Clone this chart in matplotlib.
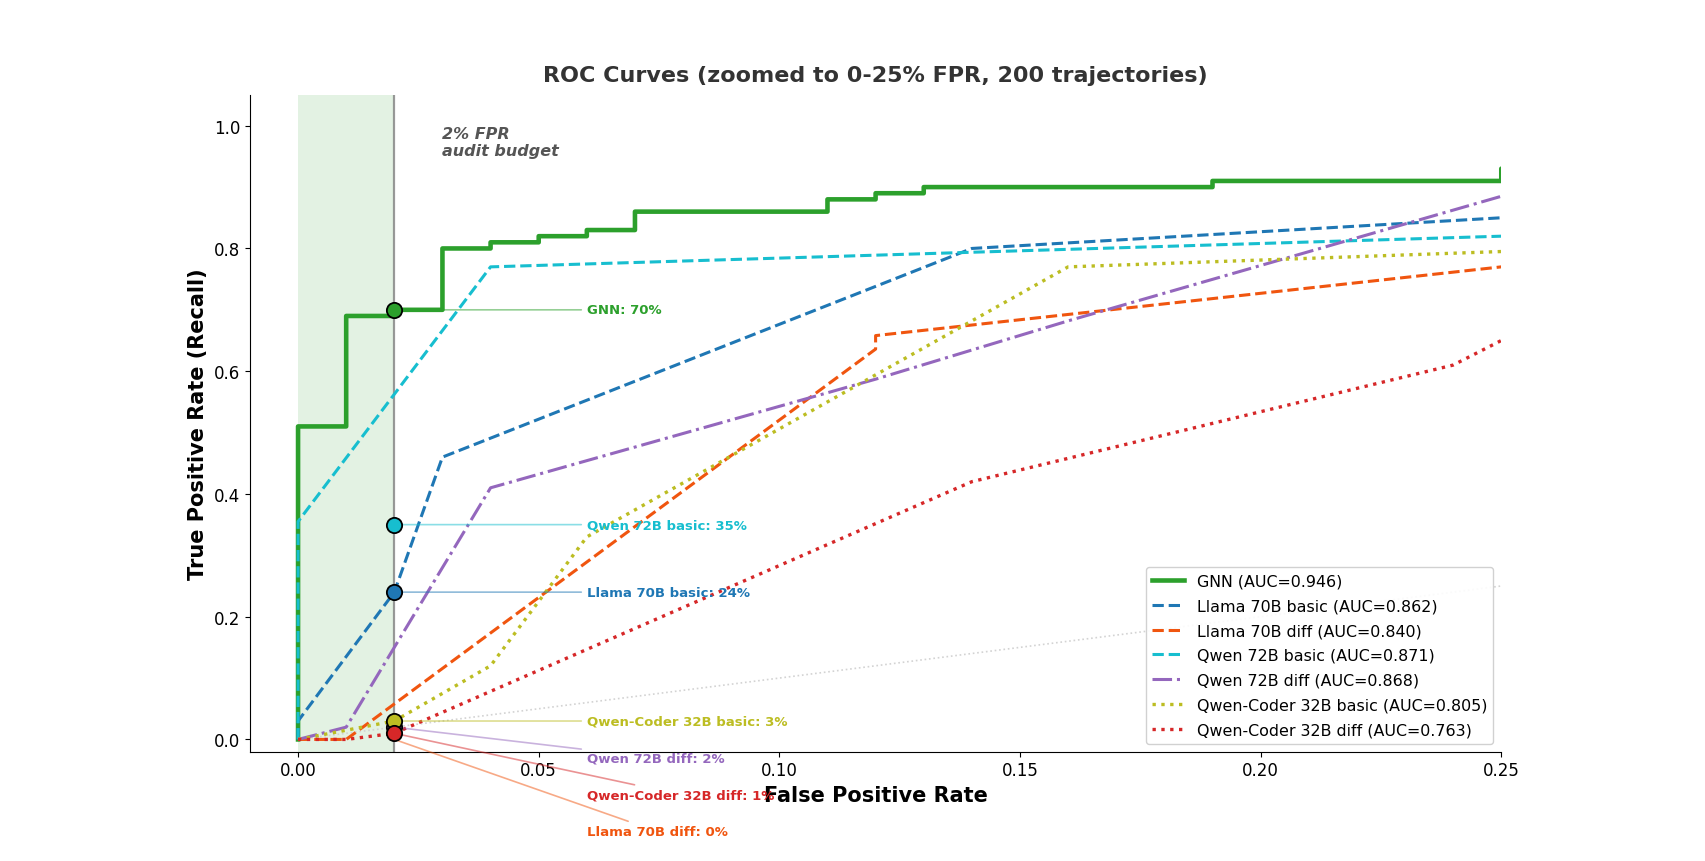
import numpy as np
import matplotlib.pyplot as plt

# ROC points
gnn_fpr = [0, 0, 0.01, 0.01, 0.02, 0.02, 0.03, 0.03, 0.04, 0.04, 0.05, 0.05, 0.06, 0.06,
           0.07, 0.07, 0.11, 0.11, 0.12, 0.12, 0.13, 0.13, 0.19, 0.19, 0.25, 0.25, 1.0]
gnn_tpr = [0, 0.51, 0.51, 0.69, 0.69, 0.70, 0.70, 0.80, 0.80, 0.81, 0.81, 0.82, 0.82, 0.83,
           0.83, 0.86, 0.86, 0.88, 0.88, 0.89, 0.89, 0.90, 0.90, 0.91, 0.91, 0.93, 1.0]

llama_basic_fpr = [0, 0, 0.02, 0.03, 0.14, 0.25, 1.0]
llama_basic_tpr = [0, 0.03, 0.24, 0.46, 0.80, 0.85, 1.0]

llama_diff_fpr = [0, 0.01, 0.12, 0.12, 0.25, 1.0]
llama_diff_tpr = [0, 0.0, 0.636, 0.658, 0.77, 1.0]

qwen_basic_fpr = [0, 0, 0.04, 0.25, 1.0]
qwen_basic_tpr = [0, 0.355, 0.77, 0.82, 1.0]

qwen_diff_fpr = [0, 0.01, 0.04, 0.12, 0.16, 0.25, 1.0]
qwen_diff_tpr = [0, 0.02, 0.41, 0.587, 0.682, 0.885, 1.0]

coder_basic_fpr = [0, 0.02, 0.04, 0.06, 0.16, 0.25, 1.0]
coder_basic_tpr = [0, 0.03, 0.12, 0.33, 0.77, 0.795, 1.0]

coder_diff_fpr = [0, 0.01, 0.02, 0.14, 0.24, 0.25, 1.0]
coder_diff_tpr = [0, 0.0, 0.01, 0.42, 0.61, 0.65, 1.0]

names = ['GNN', 'Llama 70B basic', 'Llama 70B diff', 'Qwen 72B basic',
         'Qwen 72B diff', 'Qwen-Coder 32B basic', 'Qwen-Coder 32B diff']
aucs = [0.946, 0.862, 0.840, 0.871, 0.868, 0.805, 0.763]
# recall at the 2% FPR budget (annotated points)
recall_at_2 = [0.70, 0.24, 0.00, 0.35, 0.02, 0.03, 0.01]

curves = [(gnn_fpr, gnn_tpr), (llama_basic_fpr, llama_basic_tpr),
          (llama_diff_fpr, llama_diff_tpr), (qwen_basic_fpr, qwen_basic_tpr),
          (qwen_diff_fpr, qwen_diff_tpr), (coder_basic_fpr, coder_basic_tpr),
          (coder_diff_fpr, coder_diff_tpr)]

colors = ['#2ca02c', '#1f77b4', '#f0550f', '#17becf', '#9467bd', '#bcbd22', '#d62728']
styles = ['-', '--', '--', '--', '-.', ':', ':']
widths = [3.3, 2.2, 2.2, 2.2, 2.2, 2.4, 2.4]

budget = 0.02

fig = plt.figure(figsize=(17.06, 8.62), dpi=100)
ax = fig.add_axes([0.1465, 0.1268, 0.7335, 0.7618])

ax.axvspan(0, budget, color='#2ca02c', alpha=0.13, lw=0, zorder=0)
ax.axvline(budget, color='gray', lw=1.6, alpha=0.8, zorder=1)
ax.plot([0, 1], [0, 1], color='lightgray', ls=':', lw=1.2, zorder=1)

for (fpr, tpr), name, auc, c, ls, lw in zip(curves, names, aucs, colors, styles, widths):
    ax.plot(fpr, tpr, color=c, ls=ls, lw=lw, label=f'{name} (AUC={auc:.3f})', zorder=3)

# markers at the budget (a zero recall gets no dot)
for val, c in zip(recall_at_2, colors):
    if val > 0:
        ax.plot(budget, val, 'o', color=c, markersize=11, markeredgecolor='black',
                markeredgewidth=1.3, zorder=6)

# labels, pushed apart so they don't overlap
order = np.argsort(recall_at_2)[::-1]
label_y = {}
last = None
for i in order:
    y = recall_at_2[i]
    if last is not None and last - y < 0.06:
        y = last - 0.06
    label_y[i] = y
    last = y

for i in order:
    ax.annotate(f'{names[i]}: {recall_at_2[i] * 100:.0f}%',
                xy=(budget, recall_at_2[i]), xytext=(0.06, label_y[i]),
                fontsize=9.5, fontweight='bold', color=colors[i], va='center',
                arrowprops=dict(arrowstyle='-', color=colors[i], alpha=0.5, lw=1.2),
                zorder=5, annotation_clip=False)

ax.text(0.03, 1.0, '2% FPR\naudit budget', fontsize=11.5, style='italic',
        fontweight='bold', color='#555555', va='top', ha='left')

ax.set_xlim(-0.01, 0.25)
ax.set_ylim(-0.02, 1.05)
ax.tick_params(labelsize=12)
ax.set_xlabel('False Positive Rate', fontsize=15, fontweight='bold', labelpad=4)
ax.set_ylabel('True Positive Rate (Recall)', fontsize=15, fontweight='bold')
ax.set_title('ROC Curves (zoomed to 0-25% FPR, 200 trajectories)', fontsize=16,
             fontweight='bold', color='#333333', pad=10)
ax.spines['top'].set_visible(False)
ax.spines['right'].set_visible(False)

ax.legend(loc='lower right', fontsize=11.4, labelspacing=0.62, framealpha=0.9)

fig.savefig('out.png', dpi=100)
